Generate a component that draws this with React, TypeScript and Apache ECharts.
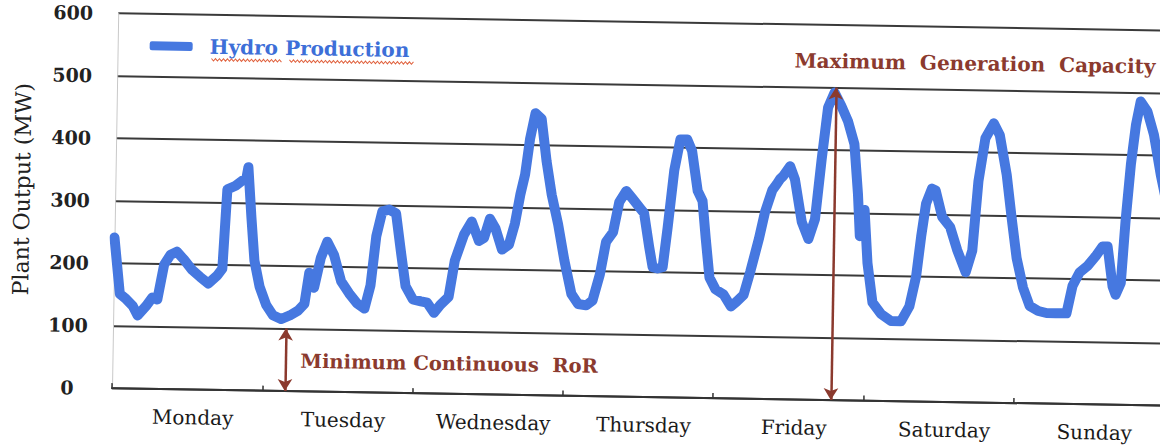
import React, { useEffect, useRef } from "react";
import * as echarts from "echarts";

// ---- data ----
const DAYS = ["Monday", "Tuesday", "Wednesday", "Thursday", "Friday", "Saturday", "Sunday"];

// hour of the week (0 = Monday 00:00) and plant output in MW
const HOURS = [
  0, 1.0, 2.0, 3.1, 3.9, 5.2, 6.2, 7.0, 8.0, 9.0, 10.0, 11.2, 12.5, 13.8, 15.1, 16.5, 17.3, 17.9, 19.2, 20.2,
  20.9, 21.2, 21.8, 22.4, 23.3, 24.4, 25.5, 26.8, 28.2, 29.5, 30.5, 31.2, 32.0, 33.0, 34.0, 35.1, 36.3, 37.6,
  38.9, 40.1, 41.0, 41.8, 42.7, 43.8, 44.9, 45.8, 46.6, 47.8, 49.1, 50.1, 51.2, 52.2, 53.5, 54.4, 55.8, 57.0,
  58.2, 59.0, 59.9, 60.8, 61.9, 63.0, 63.9, 64.7, 65.4, 66.1, 66.9, 67.9, 68.8, 69.7, 70.8, 71.9, 73.1, 74.2,
  75.5, 76.5, 77.6, 78.5, 79.6, 80.5, 81.6, 82.7, 84.0, 84.5, 85.4, 86.0, 86.8, 87.6, 88.3, 89.2, 90.1, 91.2,
  92.0, 93.0, 93.8, 94.4, 95.1, 96.1, 97.4, 98.6, 99.5, 100.6, 101.6, 102.9, 103.8, 104.9, 105.6, 106.1, 106.6,
  107.7, 108.5, 109.7, 110.8, 111.8, 112.7, 113.6, 114.6, 115.7, 116.8, 117.9, 118.6, 119.0, 119.7, 120.3,
  121.2, 122.6, 124.2, 125.8, 127.1, 128.1, 128.8, 129.5, 130.4, 131.0, 132.1, 133.4, 134.6, 136.0, 137.0,
  137.8, 138.8, 140.1, 141.1, 142.3, 143.2, 144.1, 145.2, 146.3, 147.7, 149.0, 150.5, 152.2, 153.1, 154.2,
  155.4, 156.7, 157.8, 158.6, 159.5, 160.0, 160.8, 161.4, 162.1, 162.8, 163.5, 164.6, 165.7, 166.9, 168,
];
const OUTPUT_MW = [
  241, 151, 143, 132, 117, 132, 146, 143, 199, 215, 220, 207, 191, 180, 170, 183, 194, 321, 327, 335,
  339, 357, 278, 208, 166, 137, 121, 115, 121, 129, 140, 190, 166, 214, 240, 219, 177, 158,
  142, 134, 171, 250, 290, 293, 287, 224, 171, 150, 147, 145, 129, 142, 155, 213, 255, 276,
  245, 250, 281, 266, 232, 240, 274, 321, 353, 410, 451, 442, 374, 321, 274, 216, 163, 147,
  145, 153, 195, 247, 263, 311, 329, 316, 300, 294, 240, 208, 206, 208, 272, 363, 413, 413,
  395, 331, 315, 256, 193, 174, 166, 147, 155, 166, 203, 256, 299, 334, 344, 352, 357,
  373, 352, 284, 257, 289, 384, 468, 492, 471, 447, 410, 330, 263, 305, 220,
  157, 139, 128, 128, 152, 200, 264, 317, 341, 338, 296, 280, 243, 208, 243,
  354, 423, 447, 428, 365, 296, 232, 185, 156, 148, 145, 145, 145, 189, 211,
  221, 237, 253, 253, 189, 176, 195, 295, 385, 448, 486, 470, 433, 369, 320,
];

const SERIES_NAME = "Hydro Production";
const Y_AXIS_NAME = "Plant Output (MW)";
const MIN_LABEL = "Minimum Continuous  RoR";
const MAX_LABEL = "Maximum  Generation  Capacity";
const MIN_ARROW = { hour: 27.6, from: 0, to: 100 };
const MAX_ARROW = { hour: 114.8, from: 0, to: 500 };

const BLUE = "#4678E0";
const BROWN = "#8B3A2E";
const SERIF = '"DejaVu Serif", serif';

function squiggle(x0: number, x1: number, y: number) {
  const pts: number[][] = [];
  let up = true;
  for (let x = x0; x <= x1; x += 2) {
    pts.push([x, y + (up ? -1.2 : 1.2)]);
    up = !up;
  }
  return {
    type: "polyline",
    silent: true,
    shape: { points: pts },
    style: { stroke: "#E0603C", lineWidth: 1, fill: null },
  };
}

export default function App() {
  const ref = useRef<HTMLDivElement>(null);

  useEffect(() => {
    if (!ref.current) return;
    const chart = echarts.init(ref.current, null, { renderer: "svg" });
    const data = HOURS.map((h, i) => [h, OUTPUT_MW[i]]);

    chart.setOption({
      animation: false,
      backgroundColor: "#ffffff",
      grid: { left: 104, top: 13, width: 1060, height: 375 },
      legend: {
        left: 144,
        top: 35,
        padding: 0,
        itemWidth: 43,
        itemHeight: 9,
        icon: "roundRect",
        itemStyle: { color: BLUE },
        textStyle: {
          fontFamily: SERIF,
          fontWeight: "bold",
          fontSize: 20,
          color: "#3D6FD8",
          padding: [0, 0, 0, 12],
        },
        data: [SERIES_NAME],
      },
      xAxis: [
        {
          type: "value",
          min: 0,
          max: 168,
          interval: 24,
          axisLine: { show: true, onZero: false, lineStyle: { color: "#333", width: 2 } },
          axisTick: { show: true, inside: true, length: 5, lineStyle: { color: "#333", width: 1.5 } },
          axisLabel: { show: false },
          splitLine: { show: false },
        },
        {
          type: "category",
          data: DAYS,
          position: "bottom",
          boundaryGap: true,
          axisLine: { show: false },
          axisTick: { show: false },
          axisLabel: {
            margin: 18,
            fontFamily: SERIF,
            fontSize: 20,
            color: "#1a1a1a",
            padding: [0, 0, 0, 12],
          },
          splitLine: { show: false },
        },
      ],
      yAxis: {
        type: "value",
        min: 0,
        max: 600,
        interval: 100,
        name: Y_AXIS_NAME,
        nameLocation: "middle",
        nameGap: 82,
        nameTextStyle: { fontFamily: SERIF, fontSize: 22, color: "#222", padding: [0, 0, 0, 20] },
        axisLine: { show: true, lineStyle: { color: "#c8c8c8", width: 1 } },
        axisTick: { show: false },
        axisLabel: {
          margin: 45,
          align: "center",
          fontFamily: SERIF,
          fontWeight: "bold",
          fontSize: 19,
          color: "#222",
          padding: [10, 0, 0, 0],
        },
        splitLine: { lineStyle: { color: "#3a3a3a", width: 2 } },
      },
      series: [
        {
          type: "line",
          name: SERIES_NAME,
          xAxisIndex: 0,
          data,
          showSymbol: false,
          symbol: "none",
          lineStyle: { color: BLUE, width: 10, cap: "round", join: "round" },
          itemStyle: { color: BLUE },
          markLine: {
            silent: true,
            symbol: ["arrow", "arrow"],
            symbolSize: [11, 12],
            lineStyle: { color: BROWN, width: 2.5, type: "solid" },
            label: { show: false },
            data: [
              [{ coord: [MIN_ARROW.hour, MIN_ARROW.from] }, { coord: [MIN_ARROW.hour, MIN_ARROW.to] }],
              [{ coord: [MAX_ARROW.hour, MAX_ARROW.from] }, { coord: [MAX_ARROW.hour, MAX_ARROW.to] }],
            ],
          },
        },
      ],
      graphic: [
        {
          type: "text",
          x: 300,
          y: 358,
          silent: true,
          style: {
            text: MIN_LABEL,
            font: `bold 19.5px ${SERIF}`,
            fill: BROWN,
            verticalAlign: "middle",
          },
        },
        {
          type: "text",
          x: 789,
          y: 49,
          silent: true,
          style: {
            text: MAX_LABEL,
            font: `bold 20px ${SERIF}`,
            fill: BROWN,
            verticalAlign: "middle",
          },
        },
        squiggle(206, 276, 58),
        squiggle(284, 408, 58),
      ],
    });

    return () => chart.dispose();
  }, []);

  return (
    <div
      style={{
        position: "fixed",
        left: 0,
        top: 0,
        width: 1160,
        height: 448,
        overflow: "hidden",
        background: "#ffffff",
      }}
    >
      <div
        ref={ref}
        style={{
          position: "absolute",
          left: 0,
          top: 0,
          width: 1170,
          height: 448,
          transform: "rotate(0.95deg)",
          transformOrigin: "104px 388px",
        }}
      />
    </div>
  );
}
